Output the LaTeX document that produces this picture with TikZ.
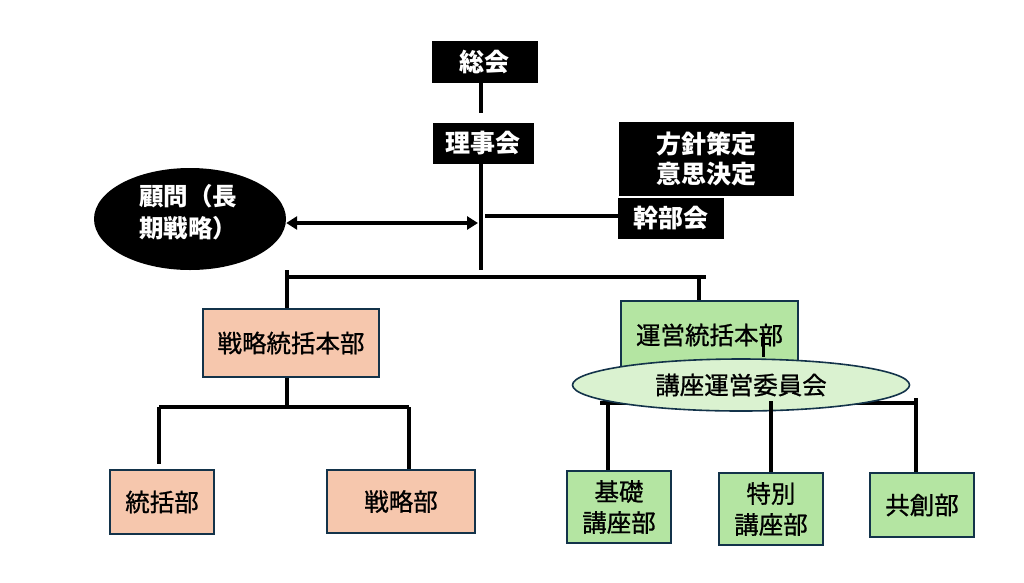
\documentclass[tikz,border=0pt]{standalone}
\usepackage{fontspec}
\newfontfamily\jp{Noto Sans CJK JP}
\newfontfamily\jpm[FakeBold=0.9]{Noto Sans CJK JP}
\usetikzlibrary{arrows.meta,shapes.geometric,calc}
\definecolor{peach}{HTML}{F6C7AD}
\definecolor{grn}{HTML}{B4E5A2}
\definecolor{lgrn}{HTML}{DAF2D0}
\definecolor{edge}{HTML}{13334A}
\tikzset{
  blk/.style={fill=black,draw=black,text=white,inner sep=0pt,align=center,font=\jp\bfseries\fontsize{25}{30}\selectfont},
  pbox/.style={fill=peach,draw=edge,line width=1.6pt,inner sep=0pt,align=center,font=\jpm\fontsize{24.5}{31}\selectfont},
  gbox/.style={fill=grn,draw=edge,line width=1.6pt,inner sep=0pt,align=center,font=\jpm\fontsize{24.5}{31}\selectfont},
  conn/.style={line width=3.8pt,draw=black}
}
\begin{document}
\begin{tikzpicture}[x=1pt,y=-1pt]
\useasboundingbox (0,0) rectangle (1024,582);
% black boxes
\node[blk,minimum width=105pt,minimum height=41pt] (sokai) at (484.5,61.5) {総会};
\node[blk,minimum width=100pt,minimum height=40pt] (riji) at (483,143) {理事会};
\node[blk,minimum width=174pt,minimum height=73pt] (hoshin) at (706,158.5) {方針策定\\意思決定};
\node[blk,minimum width=105pt,minimum height=40pt] (kanbu) at (670.5,218.5) {幹部会};
\node[ellipse,fill=black,text=white,inner sep=0pt,minimum width=192pt,minimum height=102pt] (komon) at (190,219) {};
\node[text=white,anchor=west,align=left,inner sep=0pt,font=\jp\bfseries\fontsize{24.5}{32}\selectfont] (komontxt) at (139,212) {顧問（長\\期戦略）};
% connectors top
\coordinate (skbot) at (481,113);
\draw[conn] (sokai.south -| skbot) -- (skbot);
\coordinate (trunk) at (481,270);
\draw[conn] (riji.south -| trunk) -- (trunk);
\coordinate (arrR) at (478,223);
\draw[line width=3.6pt,{Triangle[length=11pt,width=13pt]}-{Triangle[length=11pt,width=13pt]}] (arrR -| komon.east) -- (arrR);
\coordinate (kj) at (485,216);
\draw[conn] (kj) -- (kj -| kanbu.west);
% second level
\node[pbox,minimum width=176pt,minimum height=68pt] (senryaku) at (291,343) {戦略統括本部};
\node[gbox,minimum width=177pt,minimum height=68pt] (unei) at (709.5,335) {運営統括本部};
\coordinate (barL) at (285,277);
\coordinate (barR) at (706,277);
\draw[conn] (barL) -- (barR);
\coordinate (tickL) at (287,270);
\draw[conn] (tickL) -- (tickL |- senryaku.north);
\coordinate (uneiTop) at (699,277);
\draw[conn] (uneiTop) -- (uneiTop |- unei.north);
% peach subtree
\node[pbox,minimum width=104pt,minimum height=64pt] (tokatsu) at (162,502) {統括部};
\node[pbox,minimum width=148pt,minimum height=63pt] (senbu) at (401,501.5) {戦略部};
\coordinate (pm) at (287,407);
\draw[conn] (pm |- senryaku.south) -- (pm);
\coordinate (pl) at (159,407);
\coordinate (pr) at (409,407);
\draw[conn] (pl) -- (pr);
\coordinate (plEnd) at (159,464);
\draw[conn] (pl) -- (plEnd);
\draw[conn] (pr) -- (pr |- senbu.north);
% green subtree
\node[gbox,minimum width=104pt,minimum height=72pt] (kiso) at (619,507) {基礎\\講座部};
\node[gbox,minimum width=104pt,minimum height=72pt] (tokubetsu) at (771,509) {特別\\講座部};
\node[gbox,minimum width=104pt,minimum height=64pt] (kyoso) at (922,505) {共創部};
\coordinate (gl) at (600,403);
\coordinate (gr) at (918,403);
\draw[conn] (gl) -- (gr);
\coordinate (grTick) at (916,398);
\node[ellipse,fill=lgrn,draw=edge,line width=1.6pt,inner sep=0pt,minimum width=337pt,minimum height=52pt,font=\jpm\fontsize{24.5}{30}\selectfont] (iinkai) at (741,385) {講座運営委員会};
\coordinate (g1) at (608,403);
\coordinate (g2) at (771,401);
\draw[conn] (g1) -- (g1 |- kiso.north);
\draw[conn] (g2) -- (g2 |- tokubetsu.north);
\draw[conn] (grTick) -- (grTick |- kyoso.north);
\coordinate (stubA) at (763,333);
\coordinate (stubB) at (763,357);
\draw[line width=3pt] (stubA) -- (stubB);
\end{tikzpicture}
\end{document}
